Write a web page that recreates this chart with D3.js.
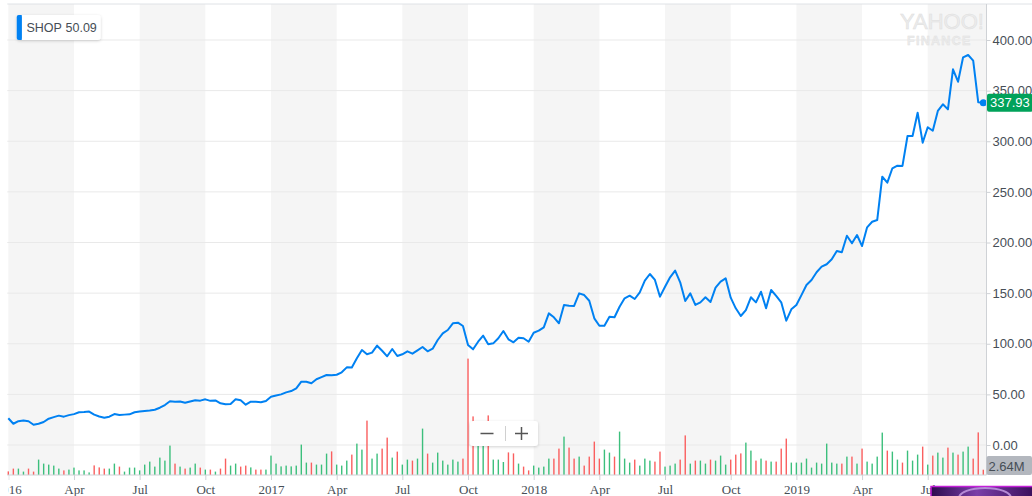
<!DOCTYPE html>
<html>
<head>
<meta charset="utf-8">
<script src="https://cdn.jsdelivr.net/npm/d3@7"></script>
<style>
  body { margin: 0; background: #fff; }
  svg { display: block; }
</style>
</head>
<body>
<svg></svg>
<script>
// Set variables

let symbol = 'SHOP'
let legendValue = '50.09'
let volumeLabel = '2.64M'

// weekly closes, first week starts Sun 27 Dec 2015
let prices = [
  26.4, 21, 23.5, 24.2, 23.5, 20, 21, 22.7, 26, 27.5,
  29, 28, 29.5, 30.5, 32.3, 32.5, 33, 30, 28.2, 27,
  28, 30.6, 29.6, 30, 30.3, 32.3, 33, 33.6, 34, 34.8,
  36.8, 39.5, 43.2, 42.7, 42.9, 41.8, 43, 44.1, 43.8, 45.1,
  43.6, 44, 41.2, 40.2, 40.5, 45.1, 44.1, 39.8, 42.8, 42.6,
  42.3, 43.5, 47.7, 48.8, 50, 52, 53.3, 56, 62.5, 62.5,
  61, 64.9, 67, 69.1, 68.8, 69.4, 71.8, 76.7, 76.5, 85.6,
  93.8, 89.6, 91.2, 98.1, 93.1, 87.6, 94.8, 87.9, 89.6, 92.5,
  90.2, 93.5, 96.8, 92.5, 95.1, 103.7, 110.3, 113.6, 120.2, 120.8,
  117.5, 98.8, 94.5, 102, 108, 99.5, 100.4, 105.4, 112.6, 104.4,
  101.4, 106, 105.4, 102, 110.9, 112.9, 116.2, 130, 126.1, 120.2,
  138.3, 137.6, 137.3, 149.8, 148.1, 142.5, 125.1, 117.8, 117.8, 126.7,
  126.2, 136.6, 144.9, 147.5, 144.2, 150.8, 162.3, 168.9, 163, 146.5,
  156.3, 165.6, 172.2, 160.7, 142.2, 149.8, 138.3, 140.9, 145.9, 141.2,
  155.4, 161.3, 164.6, 145.5, 135, 127.4, 133.3, 145.9, 140.9, 151.4,
  135, 153.1, 147.2, 140.9, 122.8, 134, 138.3, 148, 158, 163,
  170.6, 176.1, 178.5, 183.4, 191.6, 190.3, 206.7, 199.2, 207.4, 196.5,
  215, 220.5, 222.2, 265, 259.1, 273.3, 275.9, 275.6, 305.2, 305.2,
  328.2, 298.6, 313.8, 310.4, 329.9, 336.5, 331.5, 371, 358.8, 382.9,
  385.2, 379.6, 338.5, 337.93
]

// weekly volume, millions
let volumes = [
  1.8, 3.2, 3.2, 1.7, 3.2, 1.7, 7.7, 5.7, 5.2, 4.7,
  3.2, 2.3, 2.7, 3.7, 2.3, 2.3, 1.3, 4.8, 3.8, 3.2,
  3.2, 5.7, 4.2, 1.7, 3.7, 3.7, 2.3, 5.2, 6.7, 4.2,
  8.7, 7.2, 14.7, 5.7, 4.2, 3.2, 3.7, 5.7, 3.7, 2.7,
  2.7, 1.7, 3.2, 8.2, 4.7, 5.7, 4.2, 4.7, 3.8, 2.7,
  2.7, 2.7, 9.7, 5.7, 4.3, 4.7, 4.3, 4.7, 15.2, 6.2,
  6.2, 5.2, 5.2, 10.7, 11.8, 5.2, 4.7, 7.2, 10.2, 15.7,
  12.7, 27.2, 8.2, 10.7, 13.2, 18.7, 8.7, 11.7, 5.2, 7.7,
  7.2, 8.2, 23.2, 10.7, 6.2, 11.2, 7.2, 5.2, 7.7, 6.7,
  8.2, 58.2, 29.3, 17.5, 16.5, 29.8, 7.7, 7.7, 6.5, 11.3,
  10.8, 5.7, 4.2, 2.3, 4.7, 3.7, 4.2, 8.2, 8.2, 13.2,
  19.2, 13.7, 8.2, 9.2, 4.7, 9.2, 16.7, 8.2, 12.7, 11.2,
  9.2, 21.7, 8.2, 6.2, 7.7, 4.7, 8.2, 7.2, 6.7, 11.7,
  4.2, 4.7, 5.7, 7.7, 19.8, 5.7, 7.2, 7.2, 5.7, 7.7,
  7.2, 9.7, 5.2, 7.7, 10.2, 10.8, 16.2, 12.2, 7.2, 8.2,
  7.2, 6.7, 6.7, 13.2, 18.2, 6.2, 6.2, 6.2, 8.2, 3.7,
  6.2, 5.7, 15.7, 6.2, 5.7, 5.7, 9.2, 9.2, 5.7, 13.2,
  6.7, 5.7, 9.2, 21.2, 12.2, 11.7, 7.7, 6.2, 12.2, 7.2,
  10.2, 14.2, 5.2, 9.7, 11.2, 8.7, 13.7, 11.2, 10.2, 11.7,
  14.2, 8.2, 21.3, 2.64
]

// u = up week (green), d = down week (red)
let directions = (
  'dduudduuuu' + 'uduuuuuddd' + 'uuduuuuuuu' + 'uuududuudu' + 'dudduuddud' +
  'duuuuuuuuu' + 'duuuduuudu' + 'uduudduduu' + 'duuduuuuuu' + 'ddduuduuud' +
  'dudduuuudd' + 'uddudddduu' + 'duuuduuudd' + 'uuudduduud' + 'uuuddduudu' +
  'duddduuuuu' + 'uuuuududud' + 'uuuuduuduu' + 'ududuududu' + 'uddd'
).split('')

let priceTicks = [0, 50, 100, 150, 200, 250, 300, 350, 400]
// one label every 13 weeks (a quarter)
let tickLabels = ['2016', 'Apr', 'Jul', 'Oct', '2017', 'Apr', 'Jul', 'Oct',
                  '2018', 'Apr', 'Jul', 'Oct', '2019', 'Apr', 'Jul']

let width = 1032
let height = 496
let plotLeft = 7.3
let plotRight = 986.5
let plotTop = 4
let baseline = 475

let blue = '#0081f2'
let textColor = '#464e56'

let dates = prices.map((p, i) => d3.timeWeek.offset(new Date(2015, 11, 27), i))
let tickDates = tickLabels.map((l, i) => dates[i * 13])

let xScale
let yScale
let volScale

let svg = d3.select('svg')

// Draw canvas

let drawCanvas = () => {
    svg.attr('width', width)
    svg.attr('height', height)

    let defs = svg.append('defs')
    defs.append('filter')
        .attr('id', 'shadow')
        .attr('x', '-20%').attr('y', '-40%')
        .attr('width', '140%').attr('height', '180%')
        .append('feDropShadow')
        .attr('dx', 0).attr('dy', 1)
        .attr('stdDeviation', 1.6)
        .attr('flood-color', '#000')
        .attr('flood-opacity', 0.18)

    defs.append('clipPath')
        .attr('id', 'xclip')
        .append('rect')
        .attr('x', 8.6).attr('y', 0)
        .attr('width', width).attr('height', height)

    let grad = defs.append('linearGradient').attr('id', 'thumb')
    grad.append('stop').attr('offset', '0%').attr('stop-color', '#2c0b4d')
    grad.append('stop').attr('offset', '45%').attr('stop-color', '#7a3fa8')
    grad.append('stop').attr('offset', '100%').attr('stop-color', '#3b0f5c')
}

// Generate scales

let generateScales = () => {
    xScale = d3.scaleTime()
                .domain([dates[0], dates[dates.length - 1]])
                .range([8.3, 983.3])

    yScale = d3.scaleLinear()
                .domain([0, 400])
                .range([445, 40])

    volScale = d3.scaleLinear()
                .domain([0, 60])
                .range([baseline, baseline - 120])
}

// Draw quarter bands and grid

let drawBackground = () => {
    let edges = tickDates.map(d => xScale(d))
    let bands = []
    edges.forEach((e, i) => {
        if (i % 2 === 0) {
            let x0 = Math.max(e, plotLeft)
            let x1 = i + 1 < edges.length ? edges[i + 1] : plotRight
            bands.push([x0, x1])
        }
    })
    svg.append('g')
        .selectAll('rect')
        .data(bands)
        .enter()
        .append('rect')
        .attr('x', d => d[0])
        .attr('y', plotTop)
        .attr('width', d => d[1] - d[0])
        .attr('height', baseline - plotTop)
        .attr('fill', '#f5f5f5')

    svg.append('g')
        .selectAll('line')
        .data(priceTicks)
        .enter()
        .append('line')
        .attr('x1', plotLeft)
        .attr('x2', plotRight)
        .attr('y1', d => yScale(d))
        .attr('y2', d => yScale(d))
        .attr('stroke', '#e9e9e9')
        .attr('stroke-width', 1)

    svg.append('line')
        .attr('x1', plotLeft).attr('x2', width)
        .attr('y1', plotTop).attr('y2', plotTop)
        .attr('stroke', '#dfe2e6')
}

// Draw volume bars

let drawVolume = () => {
    svg.append('g')
        .selectAll('rect')
        .data(volumes)
        .enter()
        .append('rect')
        .attr('x', (v, i) => xScale(dates[i]) - 0.7)
        .attr('y', v => volScale(v))
        .attr('width', 1.4)
        .attr('height', v => baseline - volScale(v))
        .attr('fill', (v, i) => directions[i] === 'u' ? '#3cbf7c' : '#fa5f5f')
}

// Draw price line

let drawLine = () => {
    let line = d3.line()
                .x((p, i) => xScale(dates[i]))
                .y(p => yScale(p))

    svg.append('path')
        .datum(prices)
        .attr('d', line)
        .attr('fill', 'none')
        .attr('stroke', blue)
        .attr('stroke-width', 2)
        .attr('stroke-linejoin', 'round')

    let last = prices.length - 1
    svg.append('circle')
        .attr('cx', xScale(dates[last]))
        .attr('cy', yScale(prices[last]))
        .attr('r', 3.5)
        .attr('fill', blue)
}

// Generate the axes

let generateAxes = () => {
    let xAxis = d3.axisBottom(xScale)
                    .tickValues(tickDates)
                    .tickFormat((d, i) => tickLabels[i])
                    .tickSize(5)
                    .tickPadding(5)

    let xg = svg.append('g')
        .attr('transform', 'translate(0, ' + baseline + ')')
        .attr('clip-path', 'url(#xclip)')
        .call(xAxis)
    xg.select('.domain').remove()
    xg.selectAll('line').attr('stroke', '#cfd2d6')
    xg.selectAll('text')
        .attr('fill', textColor)
        .style('font-family', '"Liberation Serif", "DejaVu Serif", serif')
        .style('font-size', '13px')

    svg.append('line')
        .attr('x1', plotLeft).attr('x2', plotRight)
        .attr('y1', baseline).attr('y2', baseline)
        .attr('stroke', '#cfd2d6')

    svg.append('line')
        .attr('x1', plotRight).attr('x2', plotRight)
        .attr('y1', plotTop).attr('y2', baseline)
        .attr('stroke', '#cfd2d6')

    let yAxis = d3.axisRight(yScale)
                    .tickValues(priceTicks)
                    .tickFormat(d3.format('.2f'))
                    .tickSize(4)
                    .tickPadding(2)

    let yg = svg.append('g')
        .attr('transform', 'translate(' + plotRight + ', 0)')
        .call(yAxis)
    yg.select('.domain').remove()
    yg.selectAll('line').attr('stroke', '#cfd2d6')
    yg.selectAll('text')
        .attr('fill', textColor)
        .style('font-family', '"Liberation Sans", Arial, sans-serif')
        .style('font-size', '13px')
}

// Draw labels and overlays

let drawLabels = () => {
    let last = prices.length - 1
    let py = yScale(prices[last])

    svg.append('rect')
        .attr('x', plotRight + 0.5).attr('y', py - 9)
        .attr('width', width - plotRight).attr('height', 18)
        .attr('rx', 2)
        .attr('fill', '#00a25a')
    svg.append('text')
        .attr('x', plotRight + 3.5).attr('y', py + 4.6)
        .attr('fill', '#fff')
        .style('font-family', '"Liberation Sans", Arial, sans-serif')
        .style('font-size', '13px')
        .text(d3.format('.2f')(prices[last]))

    svg.append('rect')
        .attr('x', plotRight).attr('y', 456)
        .attr('width', width - plotRight).attr('height', 19)
        .attr('rx', 2)
        .attr('fill', '#b3b7be')
    svg.append('text')
        .attr('x', plotRight + 2).attr('y', 470.5)
        .attr('fill', textColor)
        .style('font-family', '"Liberation Sans", Arial, sans-serif')
        .style('font-size', '13px')
        .text(volumeLabel)

    // legend
    let legend = svg.append('g')
    legend.append('rect')
        .attr('x', 16.7).attr('y', 15)
        .attr('width', 84).attr('height', 25)
        .attr('rx', 3)
        .attr('fill', '#fff')
        .attr('filter', 'url(#shadow)')
    legend.append('rect')
        .attr('x', 16.7).attr('y', 15)
        .attr('width', 5).attr('height', 25)
        .attr('rx', 2)
        .attr('fill', blue)
    legend.append('rect')
        .attr('x', 19.7).attr('y', 15)
        .attr('width', 2).attr('height', 25)
        .attr('fill', blue)
    legend.append('text')
        .attr('x', 26.5).attr('y', 31.8)
        .attr('fill', textColor)
        .style('font-family', '"Liberation Sans", Arial, sans-serif')
        .style('font-size', '12.5px')
        .text(symbol)
    legend.append('text')
        .attr('x', 65.5).attr('y', 31.8)
        .attr('fill', textColor)
        .style('font-family', '"Liberation Sans", Arial, sans-serif')
        .style('font-size', '12.5px')
        .text(legendValue)

    // watermark
    svg.append('text')
        .attr('x', 900).attr('y', 28.5)
        .attr('fill', '#ececec')
        .attr('stroke', '#dedede')
        .attr('stroke-width', 0.5)
        .style('font-family', '"Liberation Sans", Arial, sans-serif')
        .style('font-size', '22px')
        .text('YAHOO!')
    svg.append('text')
        .attr('x', 907).attr('y', 44.5)
        .attr('fill', '#ececec')
        .attr('stroke', '#e0e0e0')
        .attr('stroke-width', 0.4)
        .style('font-family', '"Liberation Sans", Arial, sans-serif')
        .style('font-size', '12.5px')
        .style('font-weight', 'bold')
        .style('letter-spacing', '1.3px')
        .text('FINANCE')

    // zoom control
    let zoomBox = svg.append('g')
    zoomBox.append('rect')
        .attr('x', 470).attr('y', 421)
        .attr('width', 68).attr('height', 25)
        .attr('rx', 3)
        .attr('fill', '#fff')
        .attr('filter', 'url(#shadow)')
    zoomBox.append('line')
        .attr('x1', 480.5).attr('x2', 493.5)
        .attr('y1', 433.5).attr('y2', 433.5)
        .attr('stroke', '#555').attr('stroke-width', 1.5)
    zoomBox.append('line')
        .attr('x1', 505.5).attr('x2', 505.5)
        .attr('y1', 426).attr('y2', 441)
        .attr('stroke', '#d0d0d0')
    zoomBox.append('line')
        .attr('x1', 515).attr('x2', 528)
        .attr('y1', 433.5).attr('y2', 433.5)
        .attr('stroke', '#555').attr('stroke-width', 1.5)
    zoomBox.append('line')
        .attr('x1', 521.5).attr('x2', 521.5)
        .attr('y1', 427).attr('y2', 440)
        .attr('stroke', '#555').attr('stroke-width', 1.5)

    // video thumbnail corner
    svg.append('rect')
        .attr('x', 931).attr('y', 486.5)
        .attr('width', 102).attr('height', 11)
        .attr('fill', 'url(#thumb)')
        .attr('stroke', '#c41ed8')
        .attr('stroke-width', 1.5)
    svg.append('ellipse')
        .attr('cx', 985).attr('cy', 498)
        .attr('rx', 26).attr('ry', 10)
        .attr('fill', 'none')
        .attr('stroke', '#b58ad6')
        .attr('stroke-width', 2)
}

drawCanvas()
generateScales()
drawBackground()
drawVolume()
drawLine()
generateAxes()
drawLabels()
</script>
</body>
</html>
